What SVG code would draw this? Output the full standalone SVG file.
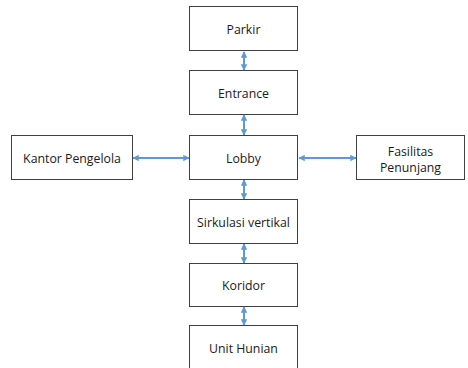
<svg xmlns="http://www.w3.org/2000/svg" width="468" height="368" viewBox="0 0 468 368">
<style>
.box{fill:#fff;stroke:#404040;stroke-width:1}
.lbl{font-family:"Open Sans","Noto Sans",sans-serif;font-size:12.3px;fill:#1a1a1a;text-anchor:middle;dominant-baseline:central}
.con{stroke:#5B9BD5;stroke-width:2;fill:none;marker-start:url(#ah);marker-end:url(#ah)}
</style>
<defs>
<marker id="ah" viewBox="0 0 10 10" refX="9" refY="5" markerWidth="3.2" markerHeight="3.2" orient="auto-start-reverse" markerUnits="strokeWidth">
<path d="M0,0 L10,5 L0,10 z" fill="#5B9BD5"/>
</marker>
</defs>
<rect width="468" height="368" fill="#fff"/>
<g id="connectors">
<line class="con" x1="244" y1="52" x2="244" y2="70"/>
<line class="con" x1="244" y1="115" x2="244" y2="135"/>
<line class="con" x1="244" y1="180" x2="244" y2="199"/>
<line class="con" x1="244" y1="244" x2="244" y2="263"/>
<line class="con" x1="244" y1="307" x2="244" y2="325"/>
<line class="con" x1="133" y1="158" x2="189" y2="158"/>
<line class="con" x1="299" y1="158" x2="356" y2="158"/>
</g>
<g id="parkir"><rect class="box" x="189.5" y="6.5" width="108" height="44"/><text class="lbl" x="243.5" y="29">Parkir</text></g>
<g id="entrance"><rect class="box" x="189.5" y="70.5" width="108" height="44"/><text class="lbl" x="243.5" y="93">Entrance</text></g>
<g id="lobby"><rect class="box" x="189.5" y="135.5" width="108" height="44"/><text class="lbl" x="243.5" y="158">Lobby</text></g>
<g id="kantor"><rect class="box" x="11.5" y="135.5" width="121" height="44"/><text class="lbl" x="72" y="158">Kantor Pengelola</text></g>
<g id="fasilitas"><rect class="box" x="356.5" y="135.5" width="108" height="44"/><text class="lbl" x="410.5" y="151">Fasilitas</text><text class="lbl" x="410.5" y="167">Penunjang</text></g>
<g id="sirkulasi"><rect class="box" x="189.5" y="199.5" width="108" height="44"/><text class="lbl" x="243.5" y="222">Sirkulasi vertikal</text></g>
<g id="koridor"><rect class="box" x="189.5" y="263.5" width="108" height="43"/><text class="lbl" x="243.5" y="285">Koridor</text></g>
<g id="unit"><rect class="box" x="189.5" y="325.5" width="108" height="44"/><text class="lbl" x="243.5" y="348">Unit Hunian</text></g>
</svg>
